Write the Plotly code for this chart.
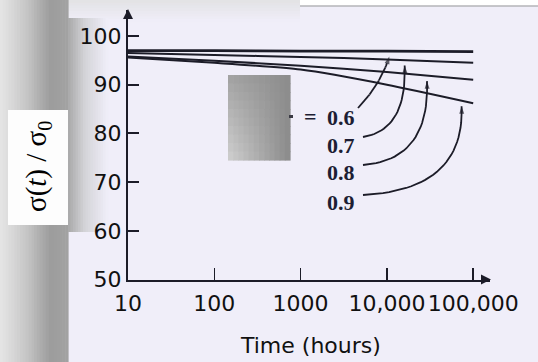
import numpy as np
import plotly.graph_objects as go

# ---------------- data ----------------
time_hours = [10, 100, 1000, 10000, 100000]
ratio_labels = ["0.6", "0.7", "0.8", "0.9"]
strength_06 = [97.0, 97.0, 96.9, 96.9, 96.8]
strength_07 = [96.5, 96.1, 95.7, 95.2, 94.5]
strength_08 = [95.8, 94.9, 93.9, 92.6, 91.0]
strength_09 = [95.6, 94.5, 93.1, 90.0, 86.2]
x_tick_vals = [10, 100, 1000, 10000, 100000]
x_tick_text = ["10", "100", "1000", "10,000", "100,000"]
y_tick_vals = [50, 60, 70, 80, 90, 100]
arrow_tip_hours = [11000, 16000, 29000, 73000]

series = [strength_06, strength_07, strength_08, strength_09]

# ---------------- layout geometry (pixels) ----------------
W, H = 538, 362
PX_L, PX_R, PX_T, PX_B = 128.0, 490.0, 10.0, 279.5
X_RANGE = [1.0, 1.0 + (PX_R - PX_L) / 86.3]
Y_RANGE = [50.0, 50.0 + (PX_B - PX_T) / 4.87]

BG = "#f0eef9"
INK = "#1c1c28"


def d2px_x(t):
    return PX_L + (np.log10(t) - X_RANGE[0]) / (X_RANGE[1] - X_RANGE[0]) * (PX_R - PX_L)


def d2px_y(v):
    return PX_B - (v - Y_RANGE[0]) / (Y_RANGE[1] - Y_RANGE[0]) * (PX_B - PX_T)


def px2d_x(p):
    return 10 ** (X_RANGE[0] + (p - PX_L) / (PX_R - PX_L) * (X_RANGE[1] - X_RANGE[0]))


def px2d_y(p):
    return Y_RANGE[0] + (PX_B - p) / (PX_B - PX_T) * (Y_RANGE[1] - Y_RANGE[0])


def px(x):
    return x / W


def py(y):
    return 1 - y / H


def hexc(c):
    c = c.lstrip("#")
    return np.array([int(c[i:i + 2], 16) for i in (0, 2, 4)], dtype=float)


def tohex(a):
    a = np.clip(np.round(a), 0, 255).astype(int)
    return "#%02x%02x%02x" % tuple(a)


shapes = []


def rect(x0, y0, x1, y1, color, layer="below"):
    shapes.append(dict(type="rect", xref="paper", yref="paper", layer=layer,
                       x0=px(x0), x1=px(x1), y0=py(y1), y1=py(y0),
                       line=dict(width=0), fillcolor=color))


def tri(points, color):
    path = "M " + " L ".join("%.4f,%.4f" % (px(a), py(b)) for a, b in points) + " Z"
    shapes.append(dict(type="path", xref="paper", yref="paper", layer="above",
                       path=path, fillcolor=color, line=dict(width=0)))


def hgrad(x0, x1, y0, y1, stops, n):
    xs = [s[0] for s in stops]
    cols = np.array([hexc(s[1]) for s in stops])
    edges = np.linspace(x0, x1, n + 1)
    for i in range(n):
        xm = (edges[i] + edges[i + 1]) / 2
        c = np.array([np.interp(xm, xs, cols[:, k]) for k in range(3)])
        rect(edges[i], y0, edges[i + 1] + 0.6, y1, tohex(c))


def vgrad(x0, x1, y0, y1, stops, n):
    ys = [s[0] for s in stops]
    cols = np.array([hexc(s[1]) for s in stops])
    edges = np.linspace(y0, y1, n + 1)
    for i in range(n):
        ym = (edges[i] + edges[i + 1]) / 2
        c = np.array([np.interp(ym, ys, cols[:, k]) for k in range(3)])
        rect(x0, edges[i], x1, edges[i + 1] + 0.6, tohex(c))


# top strip
vgrad(0, 300, 0, 22, [(0, "#e2e2e4"), (22, BG)], 8)
rect(300, 0, 538, 6, "#ffffff")
shapes.append(dict(type="line", xref="paper", yref="paper", layer="below",
                   x0=px(300), x1=px(538), y0=py(6), y1=py(6),
                   line=dict(color="#b4b4b8", width=1.5)))
# left band
hgrad(0, 68, 0, 362, [(0, "#e6e6e6"), (25, "#c8c8c8"), (50, "#9c9c9c"), (68, "#a2a2a2")], 24)
# shadow right of the band
hgrad(68, 108, 18, 232, [(68, "#a8a8a8"), (85, "#d4d4d8"), (108, BG)], 16)
# white box for the y title
rect(8, 110, 68, 225, "#fdfdfd")

# grey covering box (bilinear gradient)
gx0, gx1, gy0, gy1 = 228, 290, 75, 160
TL, BL, TR, BR = hexc("#a2a2a2"), hexc("#d0d0d0"), hexc("#8c8c8c"), hexc("#8a8a8a")
nx, ny = 12, 10
for i in range(nx):
    for j in range(ny):
        u = (i + 0.5) / nx
        v = (j + 0.5) / ny
        c = (1 - u) * ((1 - v) * TL + v * BL) + u * ((1 - v) * TR + v * BR)
        xa = gx0 + (gx1 - gx0) * i / nx
        xb = gx0 + (gx1 - gx0) * (i + 1) / nx
        ya = gy0 + (gy1 - gy0) * j / ny
        yb = gy0 + (gy1 - gy0) * (j + 1) / ny
        rect(xa, ya, xb + 0.6, yb + 0.6, tohex(c))
rect(289, 115, 293, 118, "#3a3a44")

# axis arrowheads
tri([(PX_L - 5, PX_T + 9), (PX_L, PX_T - 1), (PX_L + 5, PX_T + 9)], INK)
tri([(PX_R - 9, PX_B - 5), (PX_R + 1, PX_B), (PX_R - 9, PX_B + 5)], INK)

fig = go.Figure()

widths = [2.6, 2.0, 2.0, 2.0]
for name, vals, w in zip(ratio_labels, series, widths):
    fig.add_trace(go.Scatter(x=time_hours, y=vals, mode="lines", name=name,
                             line=dict(color=INK, width=w, shape="spline", smoothing=0.6),
                             showlegend=False, hoverinfo="skip"))

# curved arrows from labels to curves
arrow_tails_px = [(358, 108), (363, 137), (363, 165), (363, 195)]
arrow_ctrl_px = [(381, 84), (407, 130), (430, 160), (465, 190)]
HEAD = 8
for vals, tip_t, tail, ctrl in zip(series, arrow_tip_hours, arrow_tails_px, arrow_ctrl_px):
    tip_v = float(np.interp(np.log10(tip_t), np.log10(time_hours), vals))
    P2 = np.array([d2px_x(tip_t), d2px_y(tip_v) + 1.5])
    P0 = np.array(tail, dtype=float)
    P1 = np.array(ctrl, dtype=float)
    d = P2 - P1
    d = d / np.hypot(*d)
    E = P2 - d * (HEAD / 2)
    s = np.linspace(0, 1, 30)[:, None]
    pts = (1 - s) ** 2 * P0 + 2 * (1 - s) * s * P1 + s ** 2 * E
    xs = [px2d_x(p[0]) for p in pts]
    ys = [px2d_y(p[1]) for p in pts]
    sizes = [0] * (len(xs) - 1) + [HEAD]
    fig.add_trace(go.Scatter(x=xs, y=ys, mode="lines+markers",
                             line=dict(color=INK, width=1.8),
                             marker=dict(symbol="arrow", size=sizes, color=INK,
                                         angleref="previous", line=dict(width=0)),
                             showlegend=False, hoverinfo="skip"))

annotations = []
# curve labels
label_pos = [(325, 117), (325, 145), (325, 172), (325, 202)]
for lab, (lx, ly) in zip(ratio_labels, label_pos):
    annotations.append(dict(xref="paper", yref="paper", x=px(lx), y=py(ly),
                            xanchor="left", yanchor="middle", showarrow=False,
                            text="<b>%s</b>" % lab,
                            font=dict(family="Liberation Serif", size=22, color="#1d1d33")))
annotations.append(dict(xref="paper", yref="paper", x=px(302), y=py(116),
                        xanchor="left", yanchor="middle", showarrow=False,
                        text="<b>=</b>",
                        font=dict(family="Liberation Serif", size=22, color="#1d1d33")))
# y title
annotations.append(dict(xref="paper", yref="paper", x=px(38), y=py(167),
                        xanchor="center", yanchor="middle", showarrow=False,
                        textangle=-90,
                        text="σ(<i>t</i>) / σ<sub>0</sub>",
                        font=dict(family="Liberation Serif", size=29, color="#000000")))
# x title
tickfont = dict(family="DejaVu Sans", size=22, color="#111111")
annotations.append(dict(xref="paper", yref="paper", x=px(310), y=py(345),
                        xanchor="center", yanchor="middle", showarrow=False,
                        text="Time (hours)", font=tickfont))

fig.update_layout(
    width=W, height=H, autosize=False,
    margin=dict(l=0, r=0, t=0, b=0, pad=0, autoexpand=False),
    paper_bgcolor=BG, plot_bgcolor="rgba(0,0,0,0)",
    shapes=shapes, annotations=annotations,
    xaxis=dict(type="log", range=X_RANGE, domain=[px(PX_L), px(PX_R)],
               automargin=False, tickangle=0,
               showline=True, linecolor=INK, linewidth=2,
               ticks="inside", ticklen=12, tickwidth=1.5, tickcolor=INK,
               tickvals=x_tick_vals, ticktext=x_tick_text, tickfont=tickfont,
               ticklabelstandoff=3,
               showgrid=False, zeroline=False),
    yaxis=dict(range=Y_RANGE, domain=[py(PX_B), py(PX_T)],
               automargin=False,
               showline=True, linecolor=INK, linewidth=2,
               ticks="inside", ticklen=11, tickwidth=2, tickcolor=INK,
               tickvals=y_tick_vals, tickfont=tickfont,
               ticklabelstandoff=0,
               showgrid=False, zeroline=False),
)

fig.write_html("out.html",
               config={"displayModeBar": False, "staticPlot": True},
               post_script="document.body.style.margin='0';document.body.style.overflow='hidden';")
